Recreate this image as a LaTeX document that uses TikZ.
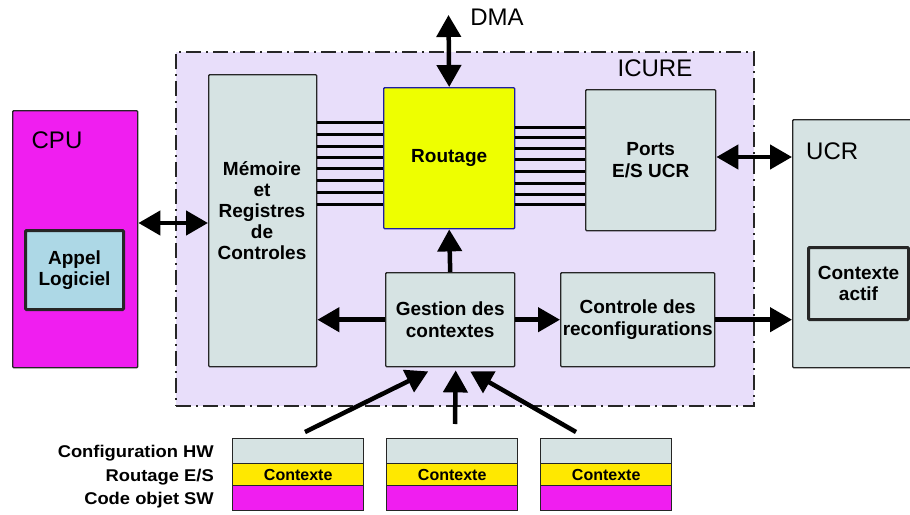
\documentclass[tikz,border=0pt]{standalone}
\usepackage{fontspec}
\setmainfont{Liberation Sans}
\usetikzlibrary{arrows.meta}
\definecolor{lav}{RGB}{232,222,250}
\definecolor{boxgrey}{RGB}{214,227,227}
\definecolor{cpumag}{RGB}{240,30,240}
\definecolor{routyel}{RGB}{238,255,0}
\definecolor{ctxyel}{RGB}{255,232,0}
\definecolor{appblue}{RGB}{173,216,230}
\definecolor{routborder}{RGB}{30,30,160}
\begin{document}
\begin{tikzpicture}[x=1pt,y=-1pt,
  box/.style={draw=black!85, line width=1.4pt, fill=boxgrey, rounded corners=1pt,
    align=center, inner sep=0pt, anchor=north west,
    font=\bfseries\fontsize{19}{21.5}\selectfont},
  thickbox/.style={box, line width=3pt},
  boxtxt/.style={align=center, inner sep=0pt, font=\bfseries\fontsize{19}{21}\selectfont},
  bigtxt/.style={font=\fontsize{24}{28}\selectfont, inner sep=0pt},
  sidelbl/.style={font=\bfseries\fontsize{17}{20}\selectfont, inner sep=0pt, anchor=east},
  cell/.style={draw=black!85, line width=1.4pt, anchor=north west, inner sep=0pt,
    minimum width=131pt, font=\bfseries\fontsize{16}{18}\selectfont},
  bus/.style={line width=3pt},
  arr/.style={line width=4.5pt, -{Triangle[width=24pt,length=22pt]}},
  darr/.style={line width=4.5pt, {Triangle[width=24pt,length=22pt]}-{Triangle[width=24pt,length=22pt]}},
  icurebox/.style={draw=black!85, fill=lav, line width=1.8pt, dash pattern=on 15pt off 5pt on 2pt off 5pt, anchor=north west, inner sep=0pt}
]
\useasboundingbox (0,0) rectangle (910,514);

% ICURE frame
\node[icurebox, minimum width=578pt, minimum height=354pt] (icure) at (175,51) {};
\node[bigtxt] (icurelbl) at (655,68) {ICURE};

% CPU
\node[box, fill=cpumag, minimum width=125pt, minimum height=257pt] (cpu) at (12,110) {};
\node[bigtxt] (cpulbl) at (57,140) {CPU};
\node[thickbox, fill=appblue, minimum width=98pt, minimum height=79pt] (appel) at (24,229) {Appel\\Logiciel};

% UCR
\node[box, minimum width=122pt, minimum height=248pt] (ucr) at (792,119) {};
\node[bigtxt, anchor=west] (ucrlbl) at (806,151) {UCR};
\node[thickbox, minimum width=100pt, minimum height=72pt] (ctxactif) at (807,246) {Contexte\\actif};

% ICURE internals
\node[box, minimum width=108pt, minimum height=292pt] (mem) at (208,74) {};
\node[boxtxt] (memtxt) at (262,211) {M\'emoire\\et\\Registres\\de\\Controles};
\node[box, fill=routyel, draw=routborder, minimum width=131pt, minimum height=141pt] (rout) at (383,87) {Routage};
\node[box, minimum width=130pt, minimum height=141pt] (ports) at (585,89) {Ports\\E/S UCR};
\node[box, minimum width=129pt, minimum height=94pt] (ges) at (385,272) {Gestion des\\contextes};
\node[box, minimum width=154pt, minimum height=94pt] (ctl) at (560,272) {Controle des\\reconfigurations};

% bus lines
\foreach \yy in {122,134,146,157,168,180,192,204} {
  \coordinate (bl) at (0,\yy);
  \draw[bus] (mem.east |- bl) -- (rout.west |- bl);
}
\foreach \yy in {127,137,148,159,171,183,194,204} {
  \coordinate (br) at (0,\yy);
  \draw[bus] (rout.east |- br) -- (ports.west |- br);
}

% arrows
\coordinate (dma) at (448.5,15);
\node[bigtxt] (dmalbl) at (497,17) {DMA};
\draw[darr] (dma) -- (rout.north);
\coordinate (ya) at (0,223);
\draw[darr] (cpu.east |- ya) -- (mem.west |- ya);
\coordinate (yb) at (0,157);
\draw[darr] (ports.east |- yb) -- (ucr.west |- yb);
\draw[arr] (ges.north) -- (rout.south);
\draw[arr] (ges.west) -- (mem.east |- ges.west);
\draw[arr] (ges.east) -- (ctl.west);
\draw[arr] (ctl.east) -- (ucr.west |- ctl.east);

% context stacks
\foreach \i/\xx in {1/232,2/386,3/540} {
  \node[cell, fill=boxgrey, minimum height=25pt] (hw\i) at (\xx,438) {};
  \node[cell, fill=ctxyel, minimum height=22pt] (es\i) at (\xx,463) {Contexte};
  \node[cell, fill=cpumag, minimum height=25pt] (sw\i) at (\xx,485) {};
}
\node[sidelbl] (lhw) at (214,453) {\scalebox{1.08}[1]{Configuration HW}};
\node[sidelbl] (les) at (214,477) {\scalebox{1.08}[1]{Routage E/S}};
\node[sidelbl] (lsw) at (214,500) {\scalebox{1.08}[1]{Code objet SW}};

\coordinate (s1) at (305,432);
\coordinate (s2) at (455,424);
\coordinate (s3) at (576,432);
\draw[arr] (s1) -- ([xshift=-22pt,yshift=-4pt]ges.south);
\draw[arr] (s2) -- ([xshift=5.5pt,yshift=-3pt]ges.south);
\draw[arr] (s3) -- ([xshift=20pt,yshift=-4pt]ges.south);
\end{tikzpicture}
\end{document}
